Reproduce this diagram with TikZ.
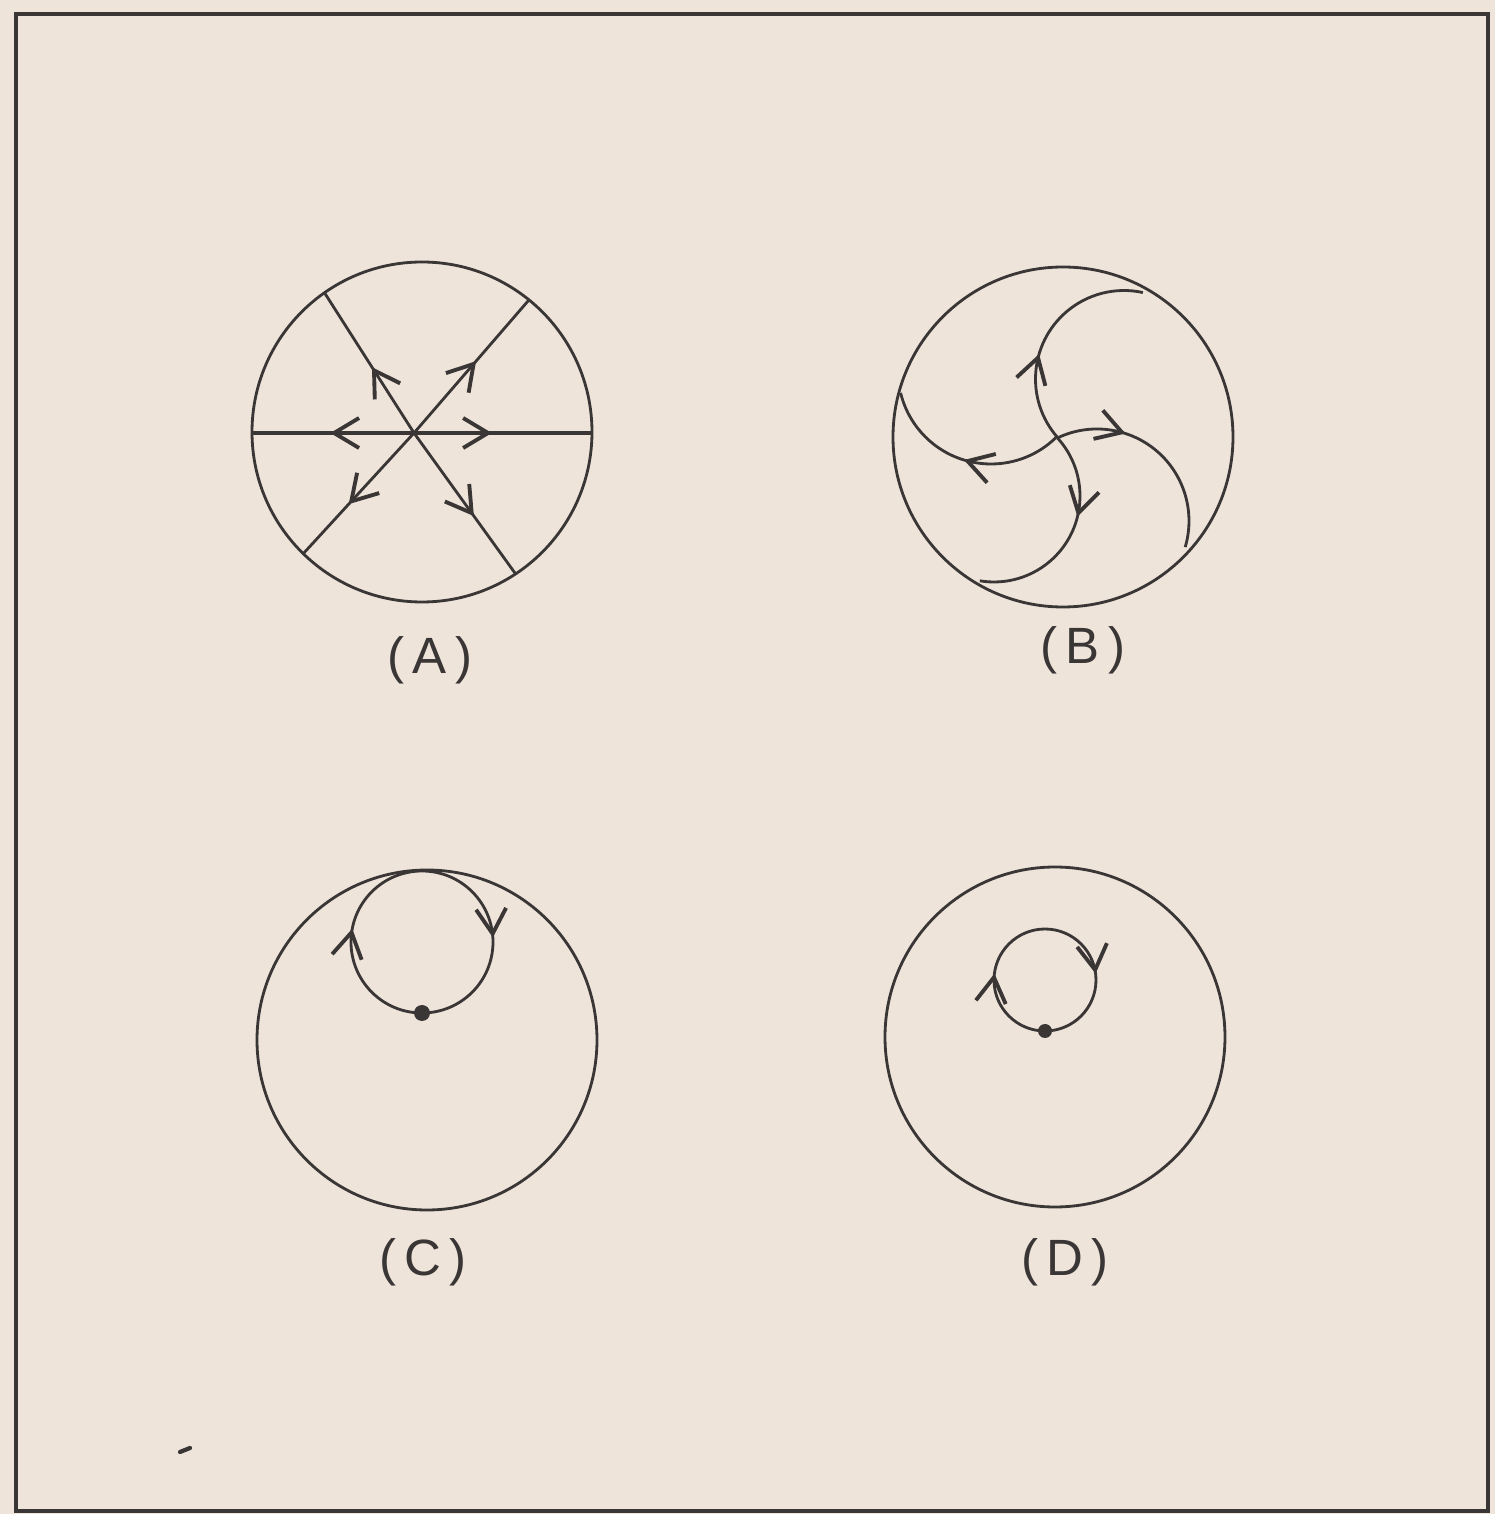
\documentclass[tikz,border=0pt]{standalone}
\usepackage{fontspec}
\setmainfont{Liberation Sans}
\usetikzlibrary{arrows.meta,decorations.markings,calc}
\definecolor{paper}{HTML}{EEE4DA}
\definecolor{ink}{HTML}{3A3636}
\begin{document}
\begin{tikzpicture}[x=0.01cm,y=0.01cm,
  ln/.style={draw=ink,line width=0.8pt},
  arrat/.style={postaction={decorate,decoration={markings,
     mark=at position #1 with {\arrow[ink,line width=1.1pt]{Straight Barb[length=2.5mm,width=3mm]}}}}},
  lbl/.style={text=ink,font=\fontsize{14.5}{16}\selectfont}]
\fill[paper] (0,0) rectangle (1495,1514);
\useasboundingbox (0,0) rectangle (1495,1514);
\draw[ink,line width=1.2pt] (16,1500) rectangle (1488,3);
% ---------- (A)
\coordinate (CA) at (422,1082);
\coordinate (OA) at (414,1081);
\draw[ln] (CA) circle[radius=170];
\draw[ln,line width=1.1pt,arrat=0.44] (OA) -- (591,1081);
\draw[ln,line width=1.1pt,arrat=0.52] (OA) -- (253,1081);
\draw[ln,arrat=0.47] (OA) -- ($(CA)+(125:170)$);
\draw[ln,arrat=0.54] (OA) -- ($(CA)+(51:170)$);
\draw[ln,arrat=0.59] (OA) -- ($(CA)+(225.7:170)$);
\draw[ln,arrat=0.59] (OA) -- ($(CA)+(-56.6:170)$);
\node[lbl] (la) at (430,854) {(\,A\,)};
% ---------- (B)
\coordinate (CB) at (1063,1077);
\draw[ln] (CB) circle[radius=170];
\draw[ln,arrat=0.40] ($(1124,1135)+(220.9:88.5)$) arc[start angle=220.9,end angle=77.7,radius=88.5];
\draw[ln,arrat=0.33] ($(1097,993)+(115.5:92)$) arc[start angle=115.5,end angle=-16.5,radius=92];
\draw[ln,arrat=0.40] ($(994,1018)+(43.1:86)$) arc[start angle=43.1,end angle=-99.5,radius=86];
\draw[ln,arrat=0.51] ($(991,1143)+(-45:93)$) arc[start angle=-45,end angle=-166.4,radius=93];
\node[lbl] (lb) at (1083,864) {(\,B\,)};
% ---------- (C)
\coordinate (CC) at (427,474);
\draw[ln] (CC) circle[radius=170];
\coordinate (dc) at (422,501);
\draw[ln,arrat=0.28,arrat=0.74] (dc) arc[start angle=-90,end angle=-450,radius=71];
\fill[ink] (dc) circle[radius=8];
\node[lbl] (lc) at (423,252) {(\,C\,)};
% ---------- (D)
\coordinate (CD) at (1055,477);
\draw[ln] (CD) circle[radius=170];
\coordinate (dd) at (1045,483);
\draw[ln,arrat=0.27,arrat=0.73] (dd) arc[start angle=-90,end angle=-450,radius=51];
\fill[ink] (dd) circle[radius=7];
\node[lbl] (ld) at (1065,252) {(\,D\,)};
% stray mark
\draw[ink,line width=1.2pt,line cap=round] (180,62) -- (190,66);
\end{tikzpicture}
\end{document}
